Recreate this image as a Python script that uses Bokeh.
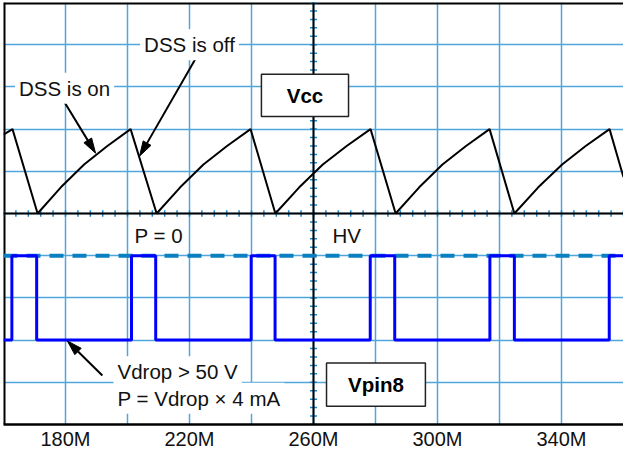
import numpy as np
from bokeh.plotting import figure
from bokeh.models import Label, FixedTicker, Range1d, LinearAxis
from bokeh.core.properties import value
from bokeh.embed import file_html
from bokeh.resources import INLINE

# ---------------- data ----------------
# time axis in M units, vertical in scope divisions
vcc_t = [160.0, 162.9, 171.0, 178.5, 186.0, 193.5, 201.0,
         209.4, 217.0, 224.5, 232.1, 239.7,
         247.7, 255.4, 263.0, 270.7, 278.4,
         286.5, 294.1, 301.6, 309.2, 316.8,
         324.8, 332.5, 340.2, 347.8, 355.5, 360.0]
vcc_v = [1.87, 2.0, 0.0, 0.62, 1.16, 1.60, 2.0,
         0.0, 0.62, 1.16, 1.60, 2.0,
         0.0, 0.62, 1.16, 1.60, 2.0,
         0.0, 0.62, 1.16, 1.60, 2.0,
         0.0, 0.62, 1.16, 1.60, 2.0, 0.86]

pin_t = [160.0, 162.7, 170.7, 201.3, 209.1, 239.9, 247.6,
         278.3, 286.2, 316.9, 324.8, 355.4, 360.0]
pin_v = [-3, -1, -3, -1, -3, -1, -3, -1, -3, -1, -3, -1, -1]

hv_level = -1.0

x_ticks = [180, 220, 260, 300, 340]
x_tick_labels = ["180M", "220M", "260M", "300M", "340M"]

note_text = ["DSS is off", "DSS is on", "P = 0", "HV", "Vdrop > 50 V", "P = Vdrop \u00d7 4 mA"]
note_x = [220.0, 179.7, 201.0, 264.8, 195.5, 195.5]
note_y = [4.0, 2.97, -0.52, -0.52, -3.75, -4.38]
note_align = ["center", "center", "left", "left", "left", "left"]

arrow_x0 = [179.0, 222.6, 191.9]
arrow_y0 = [2.72, 3.75, -3.84]
arrow_x1 = [189.7, 203.9, 180.6]
arrow_y1 = [1.43, 1.36, -3.02]

box_text = ["Vcc", "Vpin8"]
box_left = [243.2, 264.2]
box_right = [271.3, 296.1]
box_top = [3.30, -3.54]
box_bottom = [2.30, -4.57]

# ---------------- figure ----------------
X0, X1, Y0, Y1 = 160, 360, -5, 5
W, H = 623, 452
BL, BR, BT = 3, 0, 2
SX = (W - BL - BR) / (X1 - X0)
SY = 423 / (Y1 - Y0)   # approximate frame height after the axis takes its room

FONT = "Liberation Sans"
FS = "20.5px"
GRID = "#4FA6DC"
TICKC = "#1C86C8"

p = figure(width=W, height=H, x_range=Range1d(X0, X1), y_range=Range1d(Y0, Y1),
           output_backend="svg", toolbar_location=None, x_axis_location=None, y_axis_location=None,
           min_border_left=BL, min_border_right=BR, min_border_top=BT, min_border_bottom=0)
p.outline_line_color = None
p.background_fill_color = "white"
p.border_fill_color = "white"

xax = LinearAxis(ticker=FixedTicker(ticks=x_ticks),
                 major_label_overrides={t: s for t, s in zip(x_ticks, x_tick_labels)},
                 axis_line_color="black", axis_line_width=2.5,
                 major_tick_line_color=None, minor_tick_line_color=None,
                 major_tick_out=0, major_tick_in=0, major_label_standoff=3,
                 major_label_text_font=FONT, major_label_text_font_size="20px",
                 major_label_text_color="#111111")
p.add_layout(xax, "below")

p.xgrid.ticker = FixedTicker(ticks=list(range(X0, X1 + 1, 20)))
p.ygrid.ticker = FixedTicker(ticks=list(range(Y0, Y1 + 1)))
p.grid.grid_line_color = GRID
p.grid.grid_line_width = 1.5

# frame borders (left, top)
p.segment(x0=[X0, X0], y0=[Y0, Y1], x1=[X0, X1], y1=[Y1, Y1],
          line_color="black", line_width=4)

# center cross axes with minor ticks
ht = np.arange(X0, X1 + 0.01, 4.0)
p.segment(x0=ht, y0=-3.2 / SY, x1=ht, y1=3.2 / SY, line_color=TICKC, line_width=1.5)
vt = np.arange(Y0, Y1 + 0.01, 0.2)
p.segment(x0=260 - 3.5 / SX, y0=vt, x1=260 + 3.5 / SX, y1=vt, line_color=TICKC, line_width=1.5)
p.segment(x0=[X0, 260], y0=[0, Y0], x1=[X1, 260], y1=[0, Y1], line_color="black", line_width=2)

# HV dashed level
p.segment(x0=[X0], y0=[hv_level], x1=[X1], y1=[hv_level],
          line_color="#0A80C0", line_width=4, line_dash="14 9")

# traces
p.line(vcc_t, vcc_v, line_color="black", line_width=2)
p.step(pin_t, pin_v, mode="after", line_color="#0000FF", line_width=3)

# arrows
hl, hw = 15.0, 4.5
xs_heads, ys_heads, sx0, sy0, sx1, sy1 = [], [], [], [], [], []
for x0, y0, x1, y1 in zip(arrow_x0, arrow_y0, arrow_x1, arrow_y1):
    dx, dy = (x1 - x0) * SX, (y1 - y0) * SY
    L = np.hypot(dx, dy)
    ux, uy = dx / L, dy / L
    bx, by = x1 - ux * hl / SX, y1 - uy * hl / SY
    nx, ny = -uy, ux
    xs_heads.append([x1, bx + nx * hw / SX, bx - nx * hw / SX])
    ys_heads.append([y1, by + ny * hw / SY, by - ny * hw / SY])
    sx0.append(x0); sy0.append(y0); sx1.append(bx); sy1.append(by)
p.segment(x0=sx0, y0=sy0, x1=sx1, y1=sy1, line_color="black", line_width=2)
p.patches(xs_heads, ys_heads, fill_color="black", line_color="black", line_width=1)

# boxes
p.quad(left=box_left, right=box_right, top=box_top, bottom=box_bottom,
       fill_color="white", line_color="#222222", line_width=1.5)
p.text(x=[(a + b) / 2 for a, b in zip(box_left, box_right)],
       y=[(a + b) / 2 for a, b in zip(box_top, box_bottom)],
       text=box_text, text_font=value(FONT), text_font_size=FS, text_font_style="bold",
       text_align="center", text_baseline="middle", text_color="black")

# notes
for t, x, y, a in zip(note_text, note_x, note_y, note_align):
    p.add_layout(Label(x=x, y=y, text=t, text_font=FONT, text_font_size=FS,
                       text_align=a, text_baseline="middle", text_color="#111111",
                       background_fill_color="white", padding=4))

open("out.html", "w").write(file_html(p, INLINE))
